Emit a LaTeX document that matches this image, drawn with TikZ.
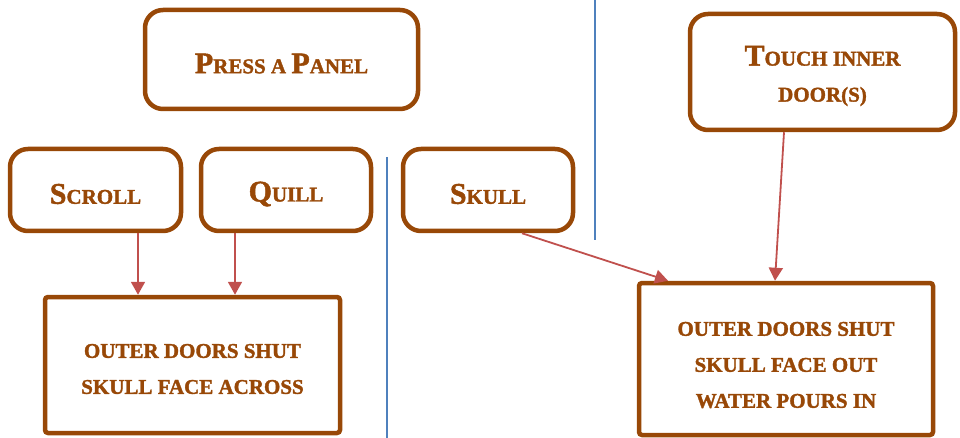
\documentclass[tikz,border=0pt]{standalone}
\usepackage{fontspec}
\setmainfont{Liberation Serif}[BoldFeatures={FakeBold=1.6}]
\usetikzlibrary{arrows.meta}
\definecolor{brd}{HTML}{984807}
\definecolor{arrc}{HTML}{C0504D}
\definecolor{sepc}{HTML}{4F81BD}
\newcommand\Bg[1]{{\fontsize{30}{36}\selectfont #1}}
\begin{document}
\begin{tikzpicture}[x=1pt,y=-1pt,
  box/.style={draw=brd, line width=4.5pt, inner sep=0pt},
  lbl/.style={text=brd, font=\bfseries\fontsize{21}{36}\selectfont, align=center, inner sep=0pt, yshift=-4pt},
  rbox/.style={box, rounded corners=18pt},
  sbox/.style={box, rounded corners=3pt},
  conn/.style={draw=arrc, line width=1.8pt, -{Triangle[width=14pt,length=13pt]}, fill=arrc},
  sepl/.style={draw=sepc, line width=1.5pt}]
\useasboundingbox (0,0) rectangle (960,438);
\node[rbox, minimum width=273pt, minimum height=99pt, label={[lbl]center:\Bg{P}RESS A \Bg{P}ANEL}] (panel) at (281.5,59.5) {};
\node[rbox, minimum width=265pt, minimum height=116pt, label={[lbl]center:\Bg{T}OUCH INNER\\DOOR(S)}] (touch) at (822.5,72) {};
\node[rbox, minimum width=171pt, minimum height=82pt, label={[lbl]center:\Bg{S}CROLL}] (scroll) at (95.5,190) {};
\node[rbox, minimum width=170pt, minimum height=82pt, label={[lbl]center:\Bg{Q}UILL}] (quill) at (286,190) {};
\node[rbox, minimum width=170pt, minimum height=82pt, label={[lbl]center:\Bg{S}KULL}] (skull) at (488,190) {};
\node[sbox, minimum width=295pt, minimum height=136pt, label={[lbl]center:OUTER DOORS SHUT\\SKULL FACE ACROSS}] (left) at (192.5,365) {};
\node[sbox, minimum width=294pt, minimum height=152pt, label={[lbl, yshift=-2pt]center:OUTER DOORS SHUT\\SKULL FACE OUT\\WATER POURS IN}] (right) at (786,359) {};
\draw[sepl] (387,157) -- (387,438);
\draw[sepl] (595,0) -- (595,240);
\draw[conn] ([xshift=42.5pt]scroll.south) -- ([xshift=-54.5pt]left.north);
\draw[conn] ([xshift=-51pt]quill.south) -- ([xshift=42.5pt]left.north);
\draw[conn] ([xshift=34pt]skull.south) -- ([xshift=-118pt]right.north);
\draw[conn] ([xshift=-38.5pt]touch.south) -- ([xshift=-11pt]right.north);
\end{tikzpicture}
\end{document}
